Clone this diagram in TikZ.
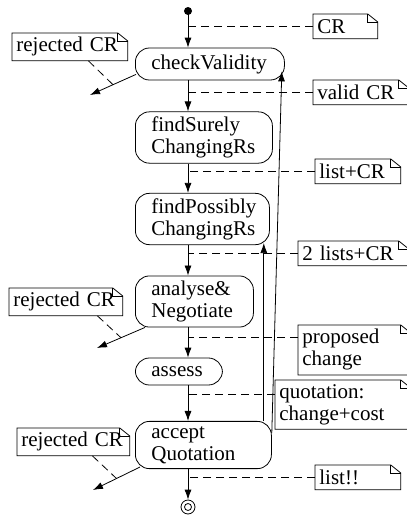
\documentclass[tikz,border=0pt]{standalone}
\usepackage{fontspec}
\setmainfont{Liberation Serif}
\usetikzlibrary{calc}
\usetikzlibrary{positioning, arrows.meta}

\tikzset{
    activity/.style={draw, rounded corners=7pt, anchor=west, align=left,
        inner xsep=8pt, inner ysep=2.5pt, minimum height=16pt, text width=#1},
    note/.style={anchor=north west, align=left, inner xsep=2pt, inner ysep=2pt,
        minimum height=12pt, text width=#1},
    link/.style={dash pattern=on 4pt off 2.5pt},
}

\begin{document}
\begin{tikzpicture}[x=0.5pt, y=-0.5pt, font=\fontsize{10.5}{11}\selectfont,
    >={Latex[length=5pt,width=3.5pt]}]
    \useasboundingbox (0,0) rectangle (407,515);

    % activities
    \coordinate (init) at (188,11);
    \fill (init) circle (2pt);
    \node[activity=58.5pt] (cv) at (135,64) {checkValidity};
    \node[activity=52.5pt] (fs) at (135,137.5) {findSurely\\ChangingRs};
    \node[activity=51pt] (fp) at (135,219) {findPossibly\\ChangingRs};
    \node[activity=43pt] (an) at (135,301.5) {analyse\&\\Negotiate};
    \node[activity=27.5pt, minimum height=13.5pt] (as) at (135,371.5) {assess};
    \node[activity=52pt] (aq) at (135,445) {accept\\Quotation};
    \node[draw, circle, minimum size=7pt, inner sep=0pt] (final) at (188,507) {};
    \draw (final) circle (1.75pt);

    \draw[->] (init) -- (cv.north -| init);
    \draw[->] (cv.south -| init) -- (fs.north -| init);
    \draw[->] (fs.south -| init) -- (fp.north -| init);
    \draw[->] (fp.south -| init) -- (an.north -| init);
    \draw[->] (an.south -| init) -- (as.north -| init);
    \draw[->] (as.south -| init) -- (aq.north -| init);
    \draw[->] (aq.south -| init) -- (final.north);

    % loops back
    \coordinate (fpin) at ([xshift=-3pt,yshift=1pt]fp.south east);
    \draw[->] (aq.north -| fpin) -- (fpin);
    \draw[->] ([yshift=-6pt]aq.north east) -- ([xshift=-1.5pt,yshift=4.5pt]cv.south east);

    % notes
    \node[note=28pt] (ncr) at (313,14) {CR};
    \node[note=43.5pt] (nvalid) at (313,80) {valid CR};
    \node[note=38.5pt] (nlist) at (315,159) {list+CR};
    \node[note=51pt] (ntwo) at (298,241) {2 lists+CR};
    \node[note=52pt] (nprop) at (298,325) {proposed\\change};
    \node[note=63.5pt] (nquot) at (275,380) {quotation:\\change+cost};
    \node[note=38.5pt] (nend) at (315,465) {list!!};
    \node[note=53.5pt] (nrej1) at (12,33) {rejected CR};
    \node[note=52.5pt] (nrej2) at (9,288) {rejected CR};
    \node[note=52pt] (nrej3) at (17,428) {rejected CR};

    \foreach \n in {ncr,nvalid,nlist,ntwo,nprop,nquot,nend,nrej1,nrej2,nrej3}{
        \draw (\n.north west) -- ([xshift=-5pt]\n.north east) -- ([yshift=-4pt]\n.north east)
            -- (\n.south east) -- (\n.south west) -- cycle;
        \draw ([xshift=-5pt]\n.north east) |- ([yshift=-4pt]\n.north east);
    }

    % object flows
    \foreach \n in {ncr,nvalid,nlist,ntwo,nend}
        \draw[link] (\n.west) -- (\n.west -| init);
    \coordinate (pin) at ([yshift=-6pt]nprop.north west);
    \draw[link] (pin) -- (pin -| init);
    \coordinate (qin) at ([yshift=-7pt]nquot.north west);
    \draw[link] (qin) -- (qin -| init);

    % rejections
    \coordinate (out1) at (90,95);
    \coordinate (out2) at (97,348);
    \coordinate (out3) at (93,490);
    \draw[->] ([xshift=0.5pt,yshift=3pt]cv.south west) -- coordinate (m1) (out1);
    \draw[->] ([xshift=5pt]an.south west) -- coordinate (m2) (out2);
    \draw[->] ([xshift=2.5pt,yshift=1pt]aq.south west) -- coordinate (m3) (out3);
    \draw[link] ([xshift=9.25pt]nrej1.south) -- (m1);
    \draw[link] ([xshift=15.75pt]nrej2.south) -- (m2);
    \draw[link] ([xshift=9.5pt]nrej3.south) -- (m3);
\end{tikzpicture}
\end{document}
